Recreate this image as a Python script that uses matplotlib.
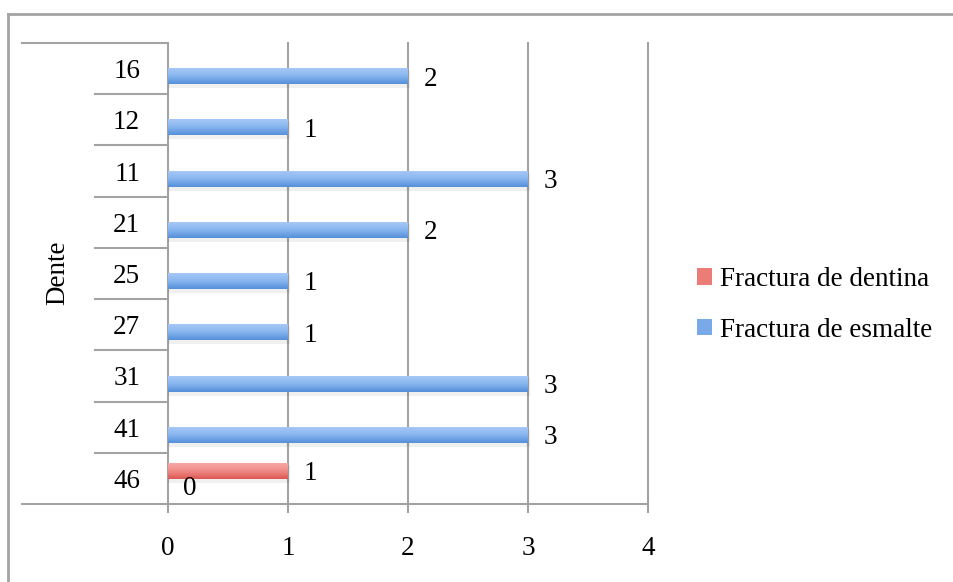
import numpy as np
import matplotlib
matplotlib.use('Agg')
import matplotlib.pyplot as plt
from matplotlib.colors import LinearSegmentedColormap
from matplotlib.patches import Patch
from matplotlib.lines import Line2D

# dados (de baixo para cima)
dentes = ['46', '41', '31', '27', '25', '21', '11', '12', '16']
dentina = [1, None, None, None, None, None, None, None, None]
esmalte = [0, 3, 3, 1, 1, 2, 3, 1, 2]
series_nomes = ['Fractura de dentina', 'Fractura de esmalte']
eixo_titulo = 'Dente'
valores_ticks = [0, 1, 2, 3, 4]

plt.rcParams['font.family'] = ['Liberation Serif', 'DejaVu Serif']
fs = 19.5
cinza = '#a3a3a3'

fig = plt.figure(figsize=(9.54, 5.82), dpi=100)
W, H = 954, 582
ax = fig.add_axes([168 / W, 1 - 504 / H, 480 / W, 461 / H])

cmap_azul = LinearSegmentedColormap.from_list('az', ['#a6c9f7', '#86b4ee', '#5590da'])
cmap_verm = LinearSegmentedColormap.from_list('vm', ['#f7a9a6', '#ef8a85', '#dc5853'])
grad = np.linspace(0, 1, 60).reshape(-1, 1)

alt = 0.31
desl = 0.15
px = 1 / 51.2  # um pixel em unidades do eixo y


def barra(v, yc, cmap):
    y0, y1 = yc - alt / 2, yc + alt / 2
    if v > 0:
        # sombra
        ax.fill_between([0, v + 0.02], y0 - 4 * px, y1 - 2 * px, color='#000000', alpha=0.06,
                        lw=0, zorder=2)
        ax.imshow(grad, extent=[0, v, y0, y1], cmap=cmap, aspect='auto', origin='upper',
                  zorder=3, interpolation='bilinear')
    ax.annotate(str(v), (v, yc), xytext=(16, -2), textcoords='offset points',
                ha='center', va='center', fontsize=fs, zorder=4)


for i, d in enumerate(dentes):
    if dentina[i] is not None:
        barra(dentina[i], i + desl, cmap_verm)
    if esmalte[i] is not None:
        barra(esmalte[i], i - desl, cmap_azul)

ax.set_xlim(0, 4)
ax.set_ylim(-0.5, len(dentes) - 0.5)
for s in ax.spines.values():
    s.set_visible(False)

# grelha vertical com traços abaixo do eixo
for v in valores_ticks:
    ax.plot([v, v], [-0.5 - 8 * px, len(dentes) - 0.5], color=cinza, lw=1.5,
            clip_on=False, zorder=1)
# linhas de categoria
xp = 1 / 120
for i in range(len(dentes) - 1):
    ax.plot([-73 * xp, 0], [i + 0.5, i + 0.5], color=cinza, lw=1.5, clip_on=False)
ax.plot([-146 * xp, 0], [len(dentes) - 0.5] * 2, color=cinza, lw=1.5, clip_on=False)
ax.plot([-146 * xp, 4], [-0.5, -0.5], color=cinza, lw=1.5, clip_on=False)

ax.set_xticks(valores_ticks)
ax.set_xticklabels([str(v) for v in valores_ticks], fontsize=fs)
ax.set_yticks(range(len(dentes)))
ax.set_yticklabels(dentes, fontsize=fs)
ax.tick_params(axis='x', length=0, pad=23)
ax.tick_params(axis='y', length=0, pad=20)

fig.text(58 / W, 1 - 273 / H, eixo_titulo, rotation=90, ha='center', va='center', fontsize=fs)

# moldura exterior
fig.add_artist(Line2D([8.5 / W, 8.5 / W], [0, 1 - 13.5 / H], color=cinza, lw=2))
fig.add_artist(Line2D([8.5 / W, 1], [1 - 13.5 / H, 1 - 13.5 / H], color=cinza, lw=2))

handles = [Patch(facecolor='#ec7c77', edgecolor='none'),
           Patch(facecolor='#79a9e8', edgecolor='none')]
fig.legend(handles, series_nomes, loc='center left', bbox_to_anchor=(697 / W, 1 - 305 / H),
           frameon=False, fontsize=fs, handlelength=0.55, handleheight=0.55,
           handletextpad=0.3, labelspacing=0.95, borderpad=0, borderaxespad=0)

fig.savefig('out.png', dpi=100)
